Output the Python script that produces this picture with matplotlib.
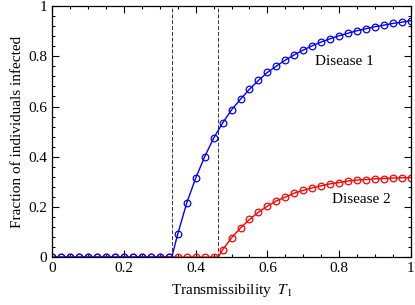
import numpy as np
import matplotlib
matplotlib.use('Agg')
import matplotlib.pyplot as plt
from matplotlib.ticker import MultipleLocator

plt.rcParams['font.family'] = 'Liberation Serif'
plt.rcParams['mathtext.fontset'] = 'stix'

# simulation points, T1 = 0, 0.025, ..., 1
t1 = np.linspace(0, 1, 41)
disease1 = [0.0] * 14 + [
    0.093, 0.216, 0.315, 0.400, 0.474, 0.534, 0.587, 0.629, 0.669, 0.704,
    0.736, 0.761, 0.785, 0.806, 0.825, 0.842, 0.857, 0.870, 0.882, 0.892,
    0.902, 0.910, 0.918, 0.924, 0.931, 0.936, 0.942]
disease2 = [0.0] * 19 + [
    0.029, 0.077, 0.116, 0.150, 0.179, 0.203, 0.224, 0.239, 0.255, 0.266,
    0.276, 0.284, 0.292, 0.297, 0.303, 0.307, 0.309, 0.312, 0.313, 0.315,
    0.316, 0.317]

# epidemic thresholds
thr1 = 1 / 3
thr2 = 0.4628

# theory curves: same points with the kink at the threshold
line1_x = np.append(t1[:14], thr1).tolist() + t1[14:].tolist()
line1_y = disease1[:14] + [0.0] + disease1[14:]
line2_x = np.append(t1[:19], thr2).tolist() + t1[19:].tolist()
line2_y = disease2[:19] + [0.0] + disease2[19:]

fig = plt.figure(figsize=(4.15, 3.05), dpi=100)
ax = fig.add_axes([0.126, 0.157, 0.864, 0.823])

ax.axvline(thr1, color='#333333', ls='--', lw=0.7, dashes=(4, 2))
ax.axvline(thr2, color='#333333', ls='--', lw=0.7, dashes=(4, 2))

ax.plot(line2_x, line2_y, color='red', lw=1.0)
ax.plot(t1, disease2, ls='none', marker='o', ms=4.8, mfc='none',
        mec='red', mew=0.9)
ax.plot(line1_x, line1_y, color='blue', lw=1.0)
ax.plot(t1, disease1, ls='none', marker='o', ms=4.8, mfc='none',
        mec='blue', mew=0.9)

ax.text(0.732, 0.78, 'Disease 1', fontsize=11, va='center')
ax.text(0.78, 0.23, 'Disease 2', fontsize=11, va='center')

ax.set_xlim(0, 1)
ax.set_ylim(0, 1)
ax.xaxis.set_major_locator(MultipleLocator(0.2))
ax.xaxis.set_minor_locator(MultipleLocator(0.05))
ax.yaxis.set_major_locator(MultipleLocator(0.2))
ax.yaxis.set_minor_locator(MultipleLocator(0.04))
ax.xaxis.set_major_formatter(plt.FuncFormatter(lambda v, p: f'{v:g}'))
ax.yaxis.set_major_formatter(plt.FuncFormatter(lambda v, p: f'{v:g}'))
ax.tick_params(which='both', direction='in', top=True, right=True,
               labelsize=11, width=0.8)
ax.tick_params(which='major', length=5)
ax.tick_params(which='minor', length=2.5)
for s in ax.spines.values():
    s.set_linewidth(0.9)

ax.set_xlabel('Transmissibility  $T_1$', fontsize=11, labelpad=5)
ax.set_ylabel('Fraction of individuals infected', fontsize=11, labelpad=3)

fig.savefig('out.png', dpi=100)
